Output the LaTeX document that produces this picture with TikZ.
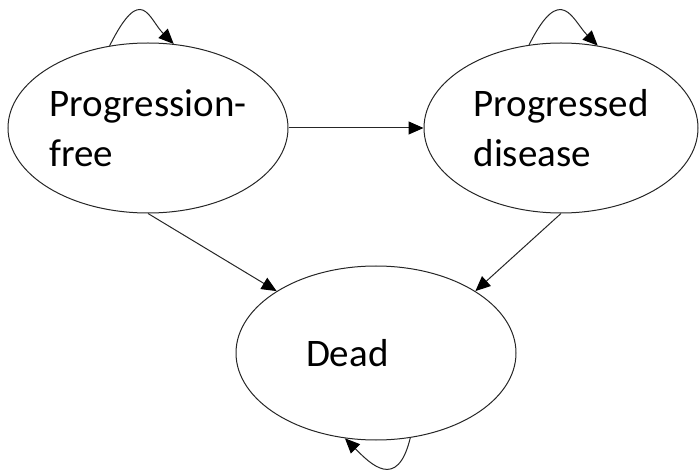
\documentclass[tikz,border=0pt]{standalone}
\usepackage{fontspec}
\setmainfont{Carlito}
\usepackage{tikz}
\usetikzlibrary{positioning, arrows.meta, shapes.geometric}

\begin{document}
\begin{tikzpicture}[
    x=1pt, y=-1pt,
    state/.style={draw=black!85, ellipse, line width=1pt, minimum width=280pt, minimum height=170pt, inner sep=0pt, font=\fontsize{39}{50}\selectfont, align=left},
    arr/.style={-{Triangle[length=15pt,width=13pt,color=black]}, line width=1pt, black!85},
]
\useasboundingbox (0,0) rectangle (699,470);

% States
\node[state] (pf) at (148,128) {Progression-\\free};
\node[state, minimum width=274pt] (pd) at (561,128) {Progressed\\disease};
\node[state, minimum height=174pt, text width=140pt] (dead) at (376,353) {Dead};

% Transitions
\draw[arr] (pf.east) -- (pd.west);
\draw[arr] (pf.south) -- (dead.north west);
\draw[arr] (pd.south) -- (dead.north east);

% Staying in the same state
\draw[arr] (pf.115) .. controls +(32,-64) and +(-25,-25) .. (pf.73);
\draw[arr] (pd.111) .. controls +(32,-64) and +(-25,-25) .. (pd.66);
\draw[arr] (dead.292) .. controls +(-13,54) and +(25,25) .. (dead.250);

\end{tikzpicture}
\end{document}
